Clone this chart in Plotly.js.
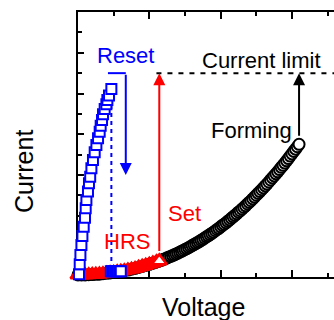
<!DOCTYPE html>
<html>
<head>
<meta charset="utf-8">
<script src="https://cdn.plot.ly/plotly-3.0.1.min.js"></script>
<style>html,body{margin:0;padding:0;overflow:hidden;background:#fff;}</style>
</head>
<body>
<div id="chart" style="width:334px;height:320px;"></div>
<script>
// Forming sweep (black circles)
const formX = [0,0.05,0.10,0.15,0.20,0.25,0.30,0.35,0.40,0.45,0.50,0.55,0.60,0.65,0.70,0.75,0.80,0.85,0.90,0.95,
  1.000,1.025,1.050,1.075,1.100,1.125,1.150,1.175,1.200,1.225,1.250,1.275,1.300,1.325,1.350,1.375,1.400,1.425,1.450,1.475,
  1.500,1.525,1.550,1.575,1.600,1.625,1.650,1.675,1.700,1.725,1.750,1.775,1.800,1.825,1.850,1.875,1.900,1.925,1.950,1.975,
  2.000,2.025,2.050,2.075,2.100,2.125,2.150,2.175,2.200,2.225,2.250,2.275,2.300,2.325,2.350,2.375,2.400,2.425,2.450,2.475,
  2.500,2.525,2.550,2.575,2.600,2.625,2.650,2.675,2.700,2.725,2.750,2.775,2.800,2.825,2.850,2.875,2.900,2.925,2.950,2.975,
  3.000,3.025,3.050,3.075,3.100];
const formY = [0.10,0.10,0.10,0.11,0.12,0.13,0.14,0.16,0.18,0.20,0.22,0.25,0.28,0.31,0.34,0.38,0.42,0.47,0.52,0.57,
  0.62,0.65,0.68,0.71,0.74,0.77,0.80,0.83,0.87,0.90,0.94,0.98,1.01,1.05,1.09,1.13,1.17,1.22,1.26,1.30,
  1.35,1.39,1.44,1.49,1.54,1.59,1.64,1.69,1.74,1.80,1.85,1.91,1.97,2.02,2.08,2.14,2.20,2.27,2.33,2.39,
  2.46,2.53,2.59,2.66,2.73,2.80,2.88,2.95,3.02,3.10,3.18,3.25,3.33,3.41,3.49,3.58,3.66,3.74,3.83,3.92,
  4.01,4.10,4.19,4.28,4.37,4.47,4.56,4.66,4.76,4.86,4.96,5.06,5.16,5.27,5.38,5.48,5.59,5.70,5.81,5.93,
  6.04,6.16,6.27,6.39,6.51];
// Set sweep (red triangles)
const setX = [0,0.05,0.10,0.15,0.20,0.25,0.30,0.35,0.40,0.45,0.50,0.55,0.60,0.65,0.70,0.75,0.80,0.85,0.90,0.95,1.00,1.05,1.10,1.14];
const setY = [0.10,0.10,0.10,0.11,0.12,0.13,0.14,0.16,0.18,0.20,0.22,0.25,0.28,0.31,0.34,0.38,0.42,0.47,0.52,0.57,0.62,0.68,0.74,0.79];
// LRS branch (blue squares)
const lrsX = [0.014,0.024,0.034,0.048,0.062,0.080,0.098,0.108,0.118,0.140,0.154,0.171,0.188,0.210,0.234,0.258,0.281,0.304,0.318,0.337,0.351,0.374,0.398,0.412,0.435,0.468];
const lrsY = [0.13,0.62,1.08,1.57,2.01,2.47,2.91,3.37,3.78,4.19,4.60,4.92,5.33,5.74,6.12,6.48,6.81,7.13,7.42,7.70,7.98,8.24,8.47,8.68,8.90,9.22];
// HRS after reset (blue squares)
const hrsX = [0.46,0.48,0.50,0.52,0.54,0.56,0.58,0.60];
const hrsY = [0.28,0.28,0.28,0.28,0.28,0.28,0.28,0.28];
// Reset drop (dashed), compliance level, annotation guides
const dropX = [0.468,0.468];
const dropY = [9.22,0.60];
const limitY = 10;
const limitX = [1.10,3.59];
const resetX = [0.42,0.67];
const resetArrowY = [10,5.0];
const setArrowX = 1.14;
const setArrowY = [1.2,10];
const formArrowX = 3.10;
const formArrowY = [6.85,10];

const BLUE = '#0000ff', RED = '#ff0000';
const FONT = 'Liberation Sans, Arial, sans-serif';

const setColors = setX.map((v,i)=> i===setX.length-1 ? '#ffffff' : RED);

const traces = [
  {x: formX, y: formY, mode:'markers', cliponaxis:false, hoverinfo:'skip',
   marker:{symbol:'circle', size:11, color:'#ffffff', line:{color:'#000', width:2}}},
  {x: setX, y: setY, mode:'markers', cliponaxis:false, hoverinfo:'skip',
   marker:{symbol:'triangle-up', size:13, color:setColors, line:{color:RED, width:2.5}}},
  {x: dropX, y: dropY, mode:'lines', cliponaxis:false, hoverinfo:'skip',
   line:{color:BLUE, width:2, dash:'4px,4px'}},
  {x: lrsX, y: lrsY, mode:'markers', cliponaxis:false, hoverinfo:'skip',
   marker:{symbol:'square', size:10, color:'#ffffff', line:{color:BLUE, width:2}}},
  {x: hrsX, y: hrsY, mode:'markers', cliponaxis:false, hoverinfo:'skip',
   marker:{symbol:'square', size:10, color:'#ffffff', line:{color:BLUE, width:2}}},
  {x: limitX, y: [limitY, limitY], mode:'lines', cliponaxis:false, hoverinfo:'skip',
   line:{color:'#000', width:2, dash:'5px,6px'}},
  {x: resetX, y: [resetArrowY[0], resetArrowY[0]], mode:'lines', cliponaxis:false, hoverinfo:'skip',
   line:{color:BLUE, width:2}}
];

function arrow(x, y0, y1, color){
  return {x:x, y:y1, ax:x, ay:y0, xref:'x', yref:'y', axref:'x', ayref:'y',
          text:'', showarrow:true, arrowhead:2, arrowsize:1.2, arrowwidth:2, arrowcolor:color};
}
function label(text, x, y, color, size){
  return {x:x, y:y, xref:'x', yref:'y', text:text, showarrow:false,
          font:{family:FONT, size:size, color:color}, xanchor:'center', yanchor:'middle'};
}

const annotations = [
  arrow(resetX[1], resetArrowY[0], resetArrowY[1], BLUE),
  arrow(setArrowX, setArrowY[0], setArrowY[1], RED),
  arrow(formArrowX, formArrowY[0], formArrowY[1], '#000'),
  label('Reset', 0.67, 10.85, BLUE, 22),
  label('LRS', -0.40, 8.35, BLUE, 22),
  label('HRS', 0.684, 1.75, RED, 22),
  label('Set', 1.50, 3.12, RED, 22),
  label('Forming', 2.44, 7.2, '#000', 22),
  label('Current limit', 2.58, 10.6, '#000', 22),
  {x:0.49, y:-0.115, xref:'paper', yref:'paper', text:'Voltage', showarrow:false,
   font:{family:FONT, size:25, color:'#000'}, xanchor:'center', yanchor:'middle'},
  {x:-0.211, y:0.40, xref:'paper', yref:'paper', text:'Current', showarrow:false, textangle:-90,
   font:{family:FONT, size:25, color:'#000'}, xanchor:'center', yanchor:'middle'}
];

const layout = {
  width:334, height:320,
  margin:{l:78, r:0, t:12, b:43},
  paper_bgcolor:'#fff', plot_bgcolor:'#fff',
  showlegend:false,
  xaxis:{range:[0,3.59], showgrid:false, zeroline:false, showticklabels:false,
         showline:true, linecolor:'#000', linewidth:2, mirror:'allticks',
         ticks:'inside', tick0:0, dtick:1, ticklen:7, tickwidth:2, tickcolor:'#000',
         minor:{ticks:'inside', dtick:0.5, ticklen:4, tickwidth:2, tickcolor:'#000'},
         layer:'below traces', fixedrange:true},
  yaxis:{range:[0,13], showgrid:false, zeroline:false, showticklabels:false,
         showline:true, linecolor:'#000', linewidth:2,
         ticks:'inside', tick0:1, dtick:2, ticklen:6, tickwidth:2, tickcolor:'#000',
         minor:{ticks:'inside', dtick:1, ticklen:4, tickwidth:2, tickcolor:'#000'},
         layer:'below traces', fixedrange:true},
  annotations: annotations
};

Plotly.newPlot('chart', traces, layout, {staticPlot:true, displayModeBar:false});
</script>
</body>
</html>
